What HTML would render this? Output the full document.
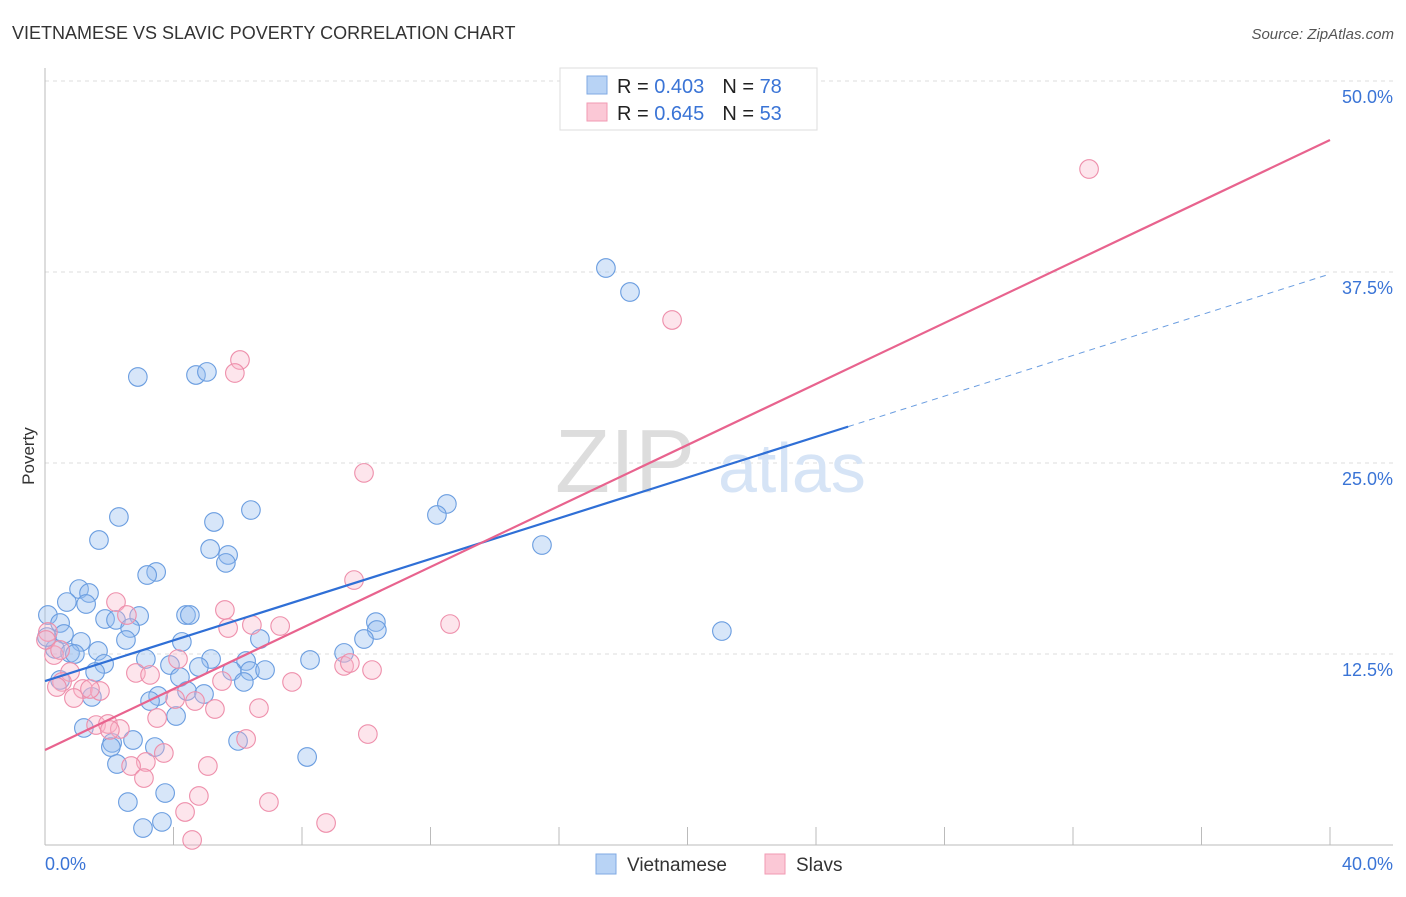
<!DOCTYPE html>
<html><head><meta charset="utf-8"><style>
body{margin:0;background:#fff;font-family:"Liberation Sans",sans-serif;}
svg text{font-family:"Liberation Sans",sans-serif;}
</style></head><body>
<svg id="chart" width="1406" height="892" xmlns="http://www.w3.org/2000/svg">
<text x="12" y="39" font-size="18" fill="#333">VIETNAMESE VS SLAVIC POVERTY CORRELATION CHART</text>
<text x="1394" y="39" font-size="15" fill="#555" font-style="italic" text-anchor="end">Source: ZipAtlas.com</text>
<text x="34" y="456" font-size="17" fill="#333" transform="rotate(-90 34 456)" text-anchor="middle">Poverty</text>
<g id="grid"></g>
<g id="axes"></g>
<text x="555" y="492" font-size="90" fill="#ddd" font-family="Liberation Serif">ZIP</text>
<text x="718" y="492" font-size="70" fill="#d6e4f6">atlas</text>
<g id="pts"></g>
<g id="lines"></g>
<g>
<rect x="560" y="68" width="257" height="62" fill="#fff" stroke="#ddd"/>
<rect x="587" y="76" width="20" height="18" fill="#b8d3f5" stroke="#7fa9e3"/>
<rect x="587" y="103" width="20" height="18" fill="#fbc8d6" stroke="#f19ab3"/>
<text x="617" y="93" font-size="20" fill="#222">R = <tspan fill="#3a74d6">0.403</tspan><tspan dx="18">N = </tspan><tspan fill="#3a74d6">78</tspan></text>
<text x="617" y="120" font-size="20" fill="#222">R = <tspan fill="#3a74d6">0.645</tspan><tspan dx="18">N = </tspan><tspan fill="#3a74d6">53</tspan></text>
</g>
<g>
<rect x="596" y="854" width="20" height="20" fill="#b8d3f5" stroke="#7fa9e3"/>
<text x="627" y="871" font-size="19" fill="#333">Vietnamese</text>
<rect x="765" y="854" width="20" height="20" fill="#fbc8d6" stroke="#f19ab3"/>
<text x="796" y="871" font-size="19" fill="#333">Slavs</text>
</g>
</svg>
<script>
const yTicks=[12.5,25,37.5,50];
const yTickLabels=["12.5%","25.0%","37.5%","50.0%"];
const xTicks=[0,4,8,12,16,20,24,28,32,36,40];
const blueTrend=[10.73,37.37];
const blueSolidEnd=25.0;
const pinkTrend=[6.22,46.14];
const blueX=[17.46,18.21,2.89,4.70,5.04,12.51,12.20,15.47,6.41,5.26,2.30,1.68,5.14,5.70,5.63,3.46,3.18,1.06,1.37,0.68,1.28,21.07,0.09,0.47,1.87,2.21,2.93,4.39,4.51,2.65,10.30,10.33,9.93,6.69,2.52,0.59,1.12,4.26,0.31,0.78,0.93,1.65,9.31,8.25,6.26,5.17,3.14,1.84,3.89,4.79,5.82,6.38,6.85,1.56,4.20,6.19,0.47,3.52,4.42,4.95,3.27,1.46,4.08,1.21,2.74,2.09,2.05,3.42,6.01,2.24,8.16,3.74,2.58,3.64,3.05,0.06];
const blueY=[37.76,36.19,30.63,30.76,30.96,22.32,21.60,19.63,21.92,21.14,21.47,19.96,19.37,18.98,18.46,17.87,17.67,16.75,16.49,15.90,15.77,14.00,15.05,14.53,14.79,14.73,14.99,15.05,15.05,14.20,14.59,14.07,13.48,13.48,13.42,13.81,13.29,13.29,12.83,12.57,12.50,12.70,12.57,12.11,12.04,12.17,12.17,11.85,11.78,11.65,11.39,11.39,11.45,11.32,10.99,10.67,10.80,9.75,10.08,9.88,9.42,9.69,8.44,7.66,6.87,6.68,6.41,6.41,6.81,5.30,5.76,3.40,2.81,1.51,1.11,13.61];
const pinkX=[32.50,19.52,6.07,5.91,9.93,9.62,12.61,5.60,2.21,2.55,7.32,5.70,6.44,0.09,0.28,4.14,9.31,10.18,9.49,2.83,3.27,0.78,0.53,0.37,5.51,7.69,1.18,1.71,0.90,4.05,4.67,5.29,6.66,3.49,1.59,1.96,2.33,2.02,6.26,10.05,3.70,3.14,5.07,2.68,3.08,4.79,6.97,4.36,8.75,4.58,0.03,0.47,1.40];
const pinkY=[44.24,34.36,31.74,30.89,24.35,17.34,14.46,15.38,15.90,15.05,14.33,14.20,14.40,13.94,12.43,12.17,11.72,11.45,11.91,11.26,11.13,11.32,10.67,10.34,10.73,10.67,10.21,10.08,9.62,9.55,9.42,8.90,8.96,8.31,7.85,7.92,7.59,7.53,6.94,7.26,6.02,5.43,5.17,5.17,4.38,3.21,2.81,2.16,1.44,0.33,13.42,12.76,10.21];
const NS="http://www.w3.org/2000/svg";
const X0=45,X1=1330,Y0=845,Y50=81;
const sx=v=>X0+(X1-X0)*v/40;
const sy=v=>Y0-(Y0-Y50)*v/50;
function mk(t,a,p){const e=document.createElementNS(NS,t);for(const k in a)e.setAttribute(k,a[k]);p.appendChild(e);return e;}
const grid=document.getElementById('grid'),axes=document.getElementById('axes'),pts=document.getElementById('pts'),lines=document.getElementById('lines');
yTicks.forEach((v,i)=>{
 const l=mk('line',{x1:X0,x2:1393,y1:sy(v),y2:sy(v),stroke:'#ddd','stroke-dasharray':'4,4'},grid);
 
 
 const t=mk('text',{x:1393,y:sy(v)+22,'font-size':18,fill:'#3a74d6','text-anchor':'end'},axes);
 t.textContent=yTickLabels[i];
 
 
});
mk('line',{x1:X0,x2:X0,y1:68,y2:Y0,stroke:'#bbb'},axes);
mk('line',{x1:X0,x2:1393,y1:Y0,y2:Y0,stroke:'#bbb'},axes);
xTicks.forEach(v=>{const t=mk('line',{x1:sx(v),x2:sx(v),y1:827,y2:Y0,stroke:'#bbb'},axes);
 
 });
const xl0=mk('text',{x:45,y:870,'font-size':18,fill:'#3a74d6'},axes);xl0.textContent='0.0%';


const xl1=mk('text',{x:1393,y:870,'font-size':18,fill:'#3a74d6','text-anchor':'end'},axes);xl1.textContent='40.0%';


blueX.forEach((x,i)=>{const c=mk('circle',{cx:sx(x),cy:sy(blueY[i]),r:9.3,fill:'rgba(150,190,240,0.38)',stroke:'#6a9de0','stroke-width':1.1},pts);
 
 });
pinkX.forEach((x,i)=>{const c=mk('circle',{cx:sx(x),cy:sy(pinkY[i]),r:9.3,fill:'rgba(248,180,200,0.35)',stroke:'#ee8fab','stroke-width':1.1},pts);
 
 });
const by=x=>blueTrend[0]+(blueTrend[1]-blueTrend[0])*x/40;
let l=mk('line',{x1:sx(0),y1:sy(by(0)),x2:sx(blueSolidEnd),y2:sy(by(blueSolidEnd)),stroke:'#2f6fd6','stroke-width':2.2},lines);


l=mk('line',{x1:sx(blueSolidEnd),y1:sy(by(blueSolidEnd)),x2:sx(40),y2:sy(by(40)),stroke:'#6a9de0','stroke-width':1,'stroke-dasharray':'6,5'},lines);


l=mk('line',{x1:sx(0),y1:sy(pinkTrend[0]),x2:sx(40),y2:sy(pinkTrend[1]),stroke:'#e8638e','stroke-width':2.2},lines);


</script>
</body></html>
